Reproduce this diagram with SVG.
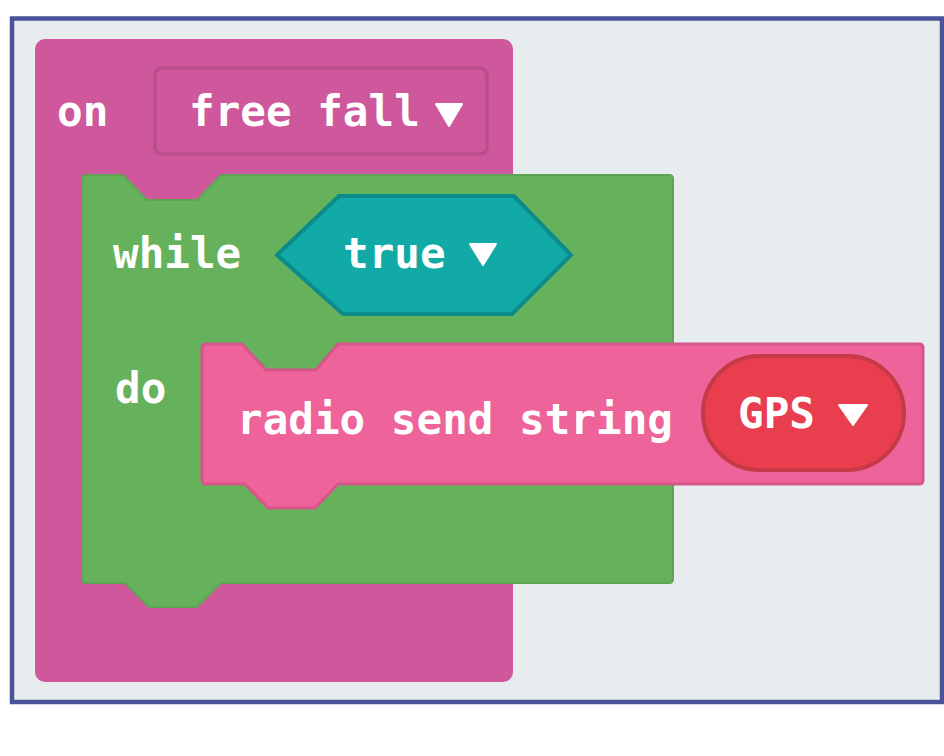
<svg xmlns="http://www.w3.org/2000/svg" width="944" height="756" viewBox="0 0 944 756">
<style>
.t{font-family:"DejaVu Sans Mono","Liberation Mono",monospace;font-weight:bold;font-size:42.6px;fill:#ffffff}
.tri{fill:#ffffff;stroke:#ffffff;stroke-width:2;stroke-linejoin:round}
</style>
<rect x="0" y="0" width="944" height="756" fill="#ffffff"/>
<rect id="frame" x="12" y="18.5" width="930" height="683.5" fill="#e7ecef" stroke="#48539a" stroke-width="4.5"/>
<g id="connectors"></g>
<g id="event-block">
<rect x="35" y="39" width="478" height="643" rx="10" fill="#cf579b"/>
<text class="t" x="57" y="126">on</text>
<g id="free-fall-dropdown">
<rect x="155" y="68" width="332" height="86" rx="7" fill="#cf579b" stroke="#b84e8b" stroke-width="3.5"/>
<text class="t" x="189" y="126">free fall</text>
<polygon class="tri" points="436,104 462,104 449,126"/>
</g>
</g>
<g id="while-block">
<path d="M82,179 Q82,175 86,175 L123,175 L147,200 L197,200 L221,175 L669,175 Q673,175 673,179 L673,579 Q673,583 669,583 L221,583 L197,607 L149,607 L125,583 L86,583 Q82,583 82,579 Z" fill="#66b15b" stroke="#5fa456" stroke-width="2"/>
<text class="t" x="113" y="268">while</text>
<text class="t" x="115" y="403">do</text>
</g>
<g id="true-block">
<polygon points="277,255 339,196 514,196 571,255 512,314 343,314" fill="#12aaa7" stroke="#0b8b89" stroke-width="4"/>
<text class="t" x="343" y="268">true</text>
<polygon class="tri" points="470,244 496,244 483,265"/>
</g>
<g id="radio-block">
<path d="M202,348 Q202,344 206,344 L242,344 L266,370 L316,370 L338,344 L919,344 Q923,344 923,348 L923,480 Q923,484 919,484 L338,484 L315,508 L268,508 L245,484 L206,484 Q202,484 202,480 Z" fill="#ee6399" stroke="#d4568a" stroke-width="3"/>
<text class="t" x="237" y="434">radio send string</text>
</g>
<g id="gps-block">
<rect x="703" y="356" width="201" height="114" rx="57" fill="#e83e4e" stroke="#c63a47" stroke-width="4"/>
<text class="t" x="738" y="428">GPS</text>
<polygon class="tri" points="839,405 867,405 853,425"/>
</g>
</svg>
